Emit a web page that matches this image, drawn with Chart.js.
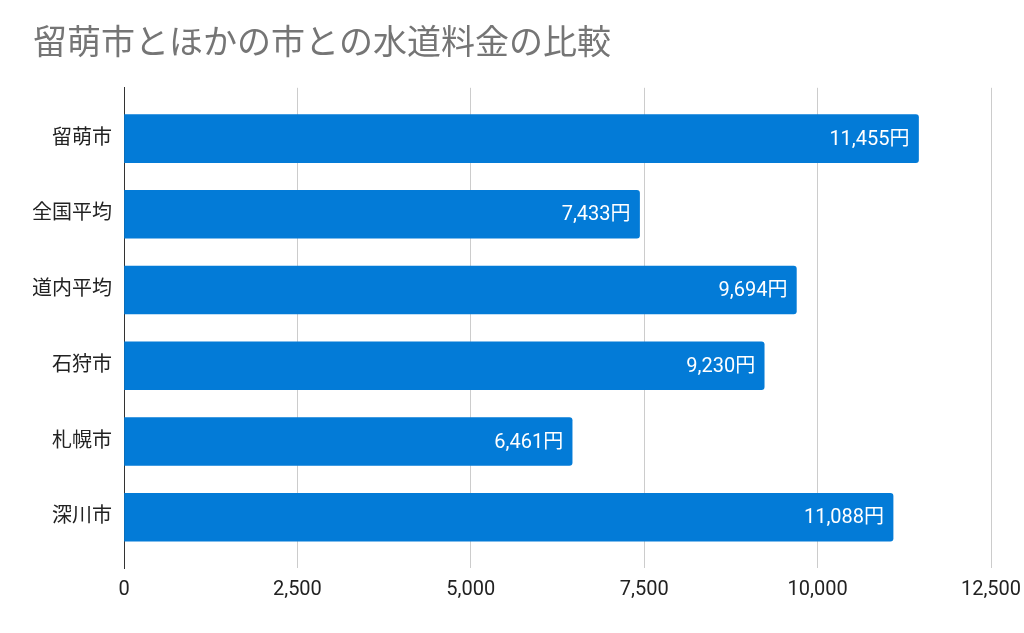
<!DOCTYPE html>
<html>
<head>
<meta charset="utf-8">
<script src="https://cdn.jsdelivr.net/npm/chart.js@4"></script>
<style>
  html, body { margin: 0; padding: 0; background: #fff; }
  #wrap { width: 1024px; height: 633px; }
</style>
</head>
<body>
<div id="wrap"><canvas id="waterChart"></canvas></div>
<script>
// ─── Data ──────────────────────────────────────────────────
const cities = ['留萌市', '全国平均', '道内平均', '石狩市', '札幌市', '深川市'];
const charges = [11455, 7433, 9694, 9230, 6461, 11088];
const xTicks = [0, 2500, 5000, 7500, 10000, 12500];

const FONT = 'Roboto, "Noto Sans CJK JP", sans-serif';
const BAR_COLOR = '#037bd7';

const fmt = v => v.toLocaleString('en-US');

// value labels drawn at the end of each bar
const barLabels = {
  id: 'barLabels',
  afterDatasetsDraw(chart) {
    const ctx = chart.ctx;
    const meta = chart.getDatasetMeta(0);
    ctx.save();
    ctx.font = `20px ${FONT}`;
    ctx.fillStyle = '#fff';
    ctx.textAlign = 'right';
    ctx.textBaseline = 'middle';
    meta.data.forEach((bar, i) => {
      ctx.fillText(fmt(charges[i]) + '円', bar.x - 9, bar.y + 1);
    });
    ctx.restore();
  }
};

new Chart(document.getElementById('waterChart'), {
  type: 'bar',
  data: {
    datasets: [{
      data: charges.map((v, i) => ({ x: v, y: i })),
      backgroundColor: BAR_COLOR,
      borderRadius: 3,
      borderSkipped: 'start',
      barThickness: 48
    }]
  },
  options: {
    indexAxis: 'y',
    responsive: true,
    maintainAspectRatio: false,
    animation: false,
    layout: { padding: { left: 33, right: 33, top: 0, bottom: 21 } },
    plugins: {
      legend: { display: false },
      tooltip: { enabled: false },
      title: {
        display: true,
        text: '留萌市とほかの市との水道料金の比較',
        align: 'start',
        color: '#757575',
        font: { family: FONT, size: 34, weight: 'normal' },
        padding: { top: 25, bottom: 22 }
      }
    },
    scales: {
      x: {
        type: 'linear',
        min: 0,
        max: 12500,
        afterBuildTicks: s => { s.ticks = xTicks.map(v => ({ value: v })); },
        afterFit: s => { s.paddingRight = 28; },
        grid: { color: '#cccccc', lineWidth: 1, drawTicks: false },
        border: { display: false },
        ticks: {
          color: '#222',
          font: { family: FONT, size: 20 },
          padding: 10,
          callback: v => fmt(v)
        }
      },
      y: {
        type: 'linear',
        reverse: true,
        offset: false,
        min: -0.67,
        max: 5.67,
        afterBuildTicks: s => { s.ticks = cities.map((_, i) => ({ value: i })); },
        afterFit: s => { s.width = 91; },
        grid: { display: false, drawTicks: false },
        border: { display: true, color: '#333', width: 1 },
        ticks: {
          color: '#222',
          font: { family: FONT, size: 20 },
          padding: 12,
          callback: v => cities[v]
        }
      }
    }
  },
  plugins: [barLabels]
});
</script>
</body>
</html>
